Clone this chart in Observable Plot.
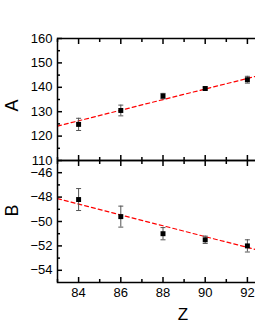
<!DOCTYPE html>
<html><head><meta charset="utf-8">
<script src="https://cdn.jsdelivr.net/npm/d3@7"></script>
<script src="https://cdn.jsdelivr.net/npm/@observablehq/plot@0.6"></script>
<style>
body{margin:0;background:#fff;}
#wrap{position:relative;width:255px;height:330px;overflow:hidden;background:#fff;}
#wrap svg{position:absolute;left:0;top:0;}
</style></head><body><div id="wrap"></div>
<script>
const zValues = [84, 86, 88, 90, 92];
const aValues = [124.8, 130.5, 136.4, 139.5, 143.1];
const aErrors = [2.5, 2.2, 1.1, 0.6, 1.4];
const bValues = [-48.2, -49.6, -51.0, -51.5, -52.0];
const bErrors = [0.9, 0.86, 0.5, 0.3, 0.5];
const fitZ = [83, 93];
const fitA = [124.1, 145.8];
const fitB = [-48.13, -52.57];
const xMajor = [84, 86, 88, 90, 92];
const xMinor = [83, 85, 87, 89, 91, 93];
const aMajor = [110, 120, 130, 140, 150, 160];
const aMinor = [115, 125, 135, 145, 155];
const bMajor = [-46, -48, -50, -52, -54];
const bMinor = [-47, -49, -51, -53];

const FONT = "'Liberation Sans', Arial, sans-serif";
const cap = {draw(ctx, size) { ctx.moveTo(-2.5, 0); ctx.lineTo(2.5, 0); }};

function panel({yDomain, top, bottom, values, errors, fit, major, minor, showX, title, titleDy}) {
  const rows = zValues.map((z, i) => ({z, v: values[i], lo: values[i] - errors[i], hi: values[i] + errors[i]}));
  const fitRows = fitZ.map((z, i) => ({z, v: fit[i]}));
  const marks = [
    Plot.line(fitRows, {x: "z", y: "v", stroke: "#ff0000", strokeWidth: 1.2, strokeDasharray: "4,3"}),
    Plot.ruleX(rows, {x: "z", y1: "lo", y2: "hi", stroke: "#555", strokeWidth: 1}),
    Plot.dot(rows, {x: "z", y: "lo", symbol: cap, stroke: "#555", strokeWidth: 1}),
    Plot.dot(rows, {x: "z", y: "hi", symbol: cap, stroke: "#555", strokeWidth: 1}),
    Plot.dot(rows, {x: "z", y: "v", symbol: "square", fill: "#000", r: 2.8}),
    Plot.frame({stroke: "#000", strokeWidth: 1.5}),
    Plot.axisY(major, {anchor: "left", tickSize: -5, tickFormat: () => "", strokeWidth: 1.5, label: null}),
    Plot.axisY(minor, {anchor: "left", tickSize: -3, tickFormat: () => "", strokeWidth: 1.5, label: null}),
    Plot.axisY(major, {anchor: "left", tickSize: 0, tickPadding: 5, fontSize: 13, label: null}),
    Plot.axisX(xMajor, {anchor: "top", tickSize: -5, tickFormat: () => "", strokeWidth: 1.5, label: null}),
    Plot.axisX(xMinor, {anchor: "top", tickSize: -3, tickFormat: () => "", strokeWidth: 1.5, label: null}),
    Plot.axisX(xMajor, {anchor: "bottom", tickSize: -5, tickFormat: () => "", strokeWidth: 1.5, label: null}),
    Plot.axisX(xMinor, {anchor: "bottom", tickSize: -3, tickFormat: () => "", strokeWidth: 1.5, label: null}),
    Plot.text([title], {frameAnchor: "left", text: d => d, rotate: -90, dx: -45, dy: titleDy, fontSize: 18, fill: "#000"})
  ];
  if (showX) {
    marks.push(Plot.axisX(xMajor, {anchor: "bottom", tickSize: 0, tickPadding: 5, fontSize: 13, label: null}));
    marks.push(Plot.text(["Z"], {frameAnchor: "bottom", text: d => d, dx: 20, dy: 37, fontSize: 17, fill: "#000"}));
  }
  return Plot.plot({
    width: 270, height: 330,
    marginLeft: 57, marginRight: 2, marginTop: top, marginBottom: 330 - bottom,
    style: {background: "transparent", overflow: "visible", maxWidth: "none", fontFamily: FONT, fontSize: "13px", color: "#000"},
    x: {domain: [83, 93]},
    y: {domain: yDomain},
    marks
  });
}

const wrap = document.getElementById("wrap");
wrap.appendChild(panel({yDomain: [110, 160], top: 38, bottom: 160, values: aValues, errors: aErrors, fit: fitA, major: aMajor, minor: aMinor, showX: false, title: "A", titleDy: 12}));
wrap.appendChild(panel({yDomain: [-55, -45], top: 160, bottom: 282, values: bValues, errors: bErrors, fit: fitB, major: bMajor, minor: bMinor, showX: true, title: "B", titleDy: -5}));
</script></body></html>
